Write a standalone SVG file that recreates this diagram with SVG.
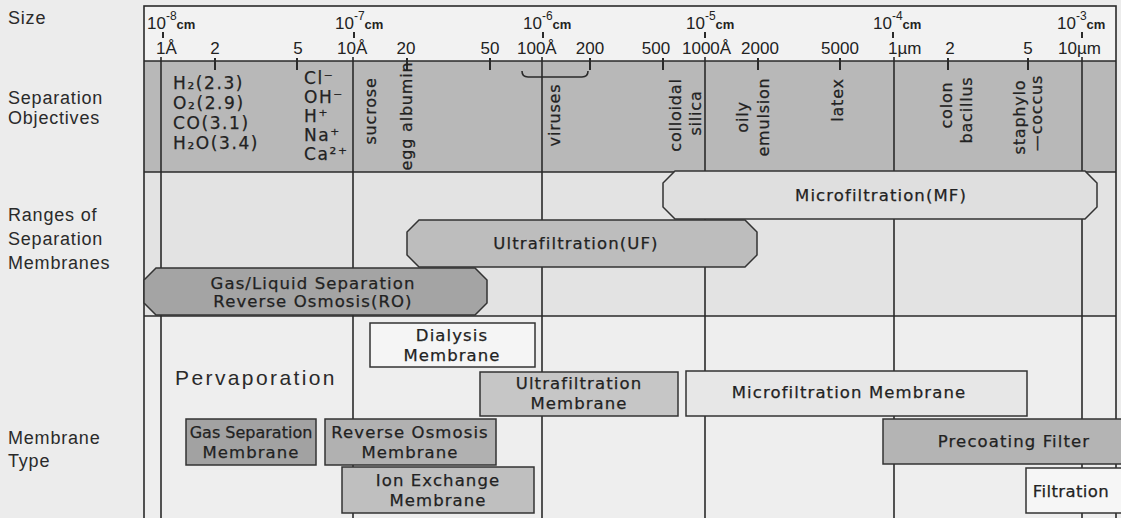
<svg xmlns="http://www.w3.org/2000/svg" width="1121" height="518" viewBox="0 0 1121 518">
<defs>
<style>
.lab{font-family:"Liberation Sans",Arial,sans-serif;font-size:18px;fill:#2a2a2a;letter-spacing:0.8px}
.num{font-family:"Liberation Sans",Arial,sans-serif;font-size:17px;fill:#222}
.sup{font-family:"Liberation Sans",Arial,sans-serif;font-size:17px;fill:#222}
.obj{font-family:"DejaVu Sans",sans-serif;font-size:17px;fill:#222;letter-spacing:1.6px;stroke:#222;stroke-width:0.25}
.rot{font-family:"DejaVu Sans",sans-serif;font-size:16px;fill:#222;letter-spacing:0.8px;text-anchor:middle;stroke:#222;stroke-width:0.25}
.bx{font-family:"DejaVu Sans",sans-serif;font-size:16.5px;fill:#222;letter-spacing:1.1px;text-anchor:middle;stroke:#222;stroke-width:0.25}
.line{stroke:#2a2a2a;stroke-width:1.6;fill:none}
.tick{stroke:#2a2a2a;stroke-width:2;fill:none}
.box{stroke:#333;stroke-width:1.5}
</style>
</defs>
<rect x="0" y="0" width="1121" height="518" fill="#ececec"/>
<rect x="144" y="6" width="972" height="55" fill="#f2f2f2"/>
<rect x="144" y="61" width="972" height="111" fill="#b8b8b8"/>
<rect x="144" y="172" width="972" height="144" fill="#e3e3e3"/>
<rect x="144" y="316" width="972" height="202" fill="#eeeeee"/>

<g id="grid-lines">
<rect x="144" y="6" width="972" height="520" class="line" stroke-width="2"/>
<line x1="144" y1="61" x2="1116" y2="61" class="line" stroke-width="2.4"/>
<line x1="144" y1="172" x2="1116" y2="172" class="line"/>
<line x1="144" y1="316" x2="1116" y2="316" class="line" stroke-width="2"/>
<line x1="161" y1="57" x2="161" y2="518" class="line"/>
<line x1="353" y1="57" x2="353" y2="518" class="line"/>
<line x1="542" y1="57" x2="542" y2="518" class="line"/>
<line x1="705" y1="57" x2="705" y2="518" class="line"/>
<line x1="894" y1="57" x2="894" y2="518" class="line"/>
<line x1="1082" y1="57" x2="1082" y2="518" class="line"/>
<g class="tick">
<line x1="163" y1="32" x2="163" y2="38"/><line x1="354" y1="32" x2="354" y2="38"/><line x1="543" y1="32" x2="543" y2="38"/>
<line x1="705" y1="32" x2="705" y2="38"/><line x1="893" y1="32" x2="893" y2="38"/><line x1="1082" y1="32" x2="1082" y2="38"/>
<line x1="215" y1="58" x2="215" y2="70"/><line x1="297" y1="58" x2="297" y2="70"/><line x1="407" y1="58" x2="407" y2="70"/>
<line x1="490" y1="58" x2="490" y2="70"/><line x1="590" y1="58" x2="590" y2="70"/><line x1="663" y1="58" x2="663" y2="70"/>
<line x1="758" y1="58" x2="758" y2="70"/><line x1="840" y1="58" x2="840" y2="70"/><line x1="948" y1="58" x2="948" y2="70"/>
<line x1="1028" y1="58" x2="1028" y2="70"/>
</g>
<path d="M522,71 Q522,77 528,77 H582 Q588,77 588,71" class="line" stroke-width="1.8"/>
</g>

<g id="row-labels">
<text class="lab" x="8" y="24">Size</text>
<text class="lab" x="8" y="104">Separation</text>
<text class="lab" x="8" y="124">Objectives</text>
<text class="lab" x="8" y="221">Ranges of</text>
<text class="lab" x="8" y="245">Separation</text>
<text class="lab" x="8" y="269">Membranes</text>
<text class="lab" x="8" y="444">Membrane</text>
<text class="lab" x="8" y="467">Type</text>
</g>

<g id="scale-header">
<text class="sup" x="147" y="29">10<tspan font-size="12" dy="-9">-8</tspan><tspan font-size="13" font-weight="bold" dy="9">cm</tspan></text>
<text class="sup" x="335" y="29">10<tspan font-size="12" dy="-9">-7</tspan><tspan font-size="13" font-weight="bold" dy="9">cm</tspan></text>
<text class="sup" x="523" y="29">10<tspan font-size="12" dy="-9">-6</tspan><tspan font-size="13" font-weight="bold" dy="9">cm</tspan></text>
<text class="sup" x="686" y="29">10<tspan font-size="12" dy="-9">-5</tspan><tspan font-size="13" font-weight="bold" dy="9">cm</tspan></text>
<text class="sup" x="873" y="29">10<tspan font-size="12" dy="-9">-4</tspan><tspan font-size="13" font-weight="bold" dy="9">cm</tspan></text>
<text class="sup" x="1057" y="29">10<tspan font-size="12" dy="-9">-3</tspan><tspan font-size="13" font-weight="bold" dy="9">cm</tspan></text>
<text class="num" x="156" y="54">1Å</text>
<text class="num" x="215" y="54" text-anchor="middle">2</text>
<text class="num" x="298" y="54" text-anchor="middle">5</text>
<text class="num" x="337" y="54">10Å</text>
<text class="num" x="406" y="54" text-anchor="middle">20</text>
<text class="num" x="490" y="54" text-anchor="middle">50</text>
<text class="num" x="517" y="54">100Å</text>
<text class="num" x="590" y="54" text-anchor="middle">200</text>
<text class="num" x="656" y="54" text-anchor="middle">500</text>
<text class="num" x="682" y="54">1000Å</text>
<text class="num" x="760" y="54" text-anchor="middle">2000</text>
<text class="num" x="840" y="54" text-anchor="middle">5000</text>
<text class="num" x="888" y="54">1µm</text>
<text class="num" x="950" y="54" text-anchor="middle">2</text>
<text class="num" x="1028" y="54" text-anchor="middle">5</text>
<text class="num" x="1058" y="54">10µm</text>
</g>

<g id="separation-objectives">
<text class="obj" x="173" y="89">H₂(2.3)</text>
<text class="obj" x="173" y="109">O₂(2.9)</text>
<text class="obj" x="173" y="129">CO(3.1)</text>
<text class="obj" x="173" y="149">H₂O(3.4)</text>
<text class="obj" x="304" y="84">Cl⁻</text>
<text class="obj" x="304" y="103">OH⁻</text>
<text class="obj" x="304" y="122">H⁺</text>
<text class="obj" x="304" y="141">Na⁺</text>
<text class="obj" x="304" y="160">Ca²⁺</text>
<text class="rot" transform="translate(376,111) rotate(-90)">sucrose</text>
<text class="rot" transform="translate(412,116) rotate(-90)">egg albumin</text>
<text class="rot" transform="translate(560,115) rotate(-90)">viruses</text>
<text class="rot" transform="translate(681,115) rotate(-90)">colloidal</text>
<text class="rot" transform="translate(701,113) rotate(-90)">silica</text>
<text class="rot" transform="translate(748,117) rotate(-90)">oily</text>
<text class="rot" transform="translate(769,117) rotate(-90)">emulsion</text>
<text class="rot" transform="translate(843,100) rotate(-90)">latex</text>
<text class="rot" transform="translate(952,105) rotate(-90)">colon</text>
<text class="rot" transform="translate(972,110) rotate(-90)">bacillus</text>
<text class="rot" transform="translate(1025,117) rotate(-90)">staphylo</text>
<text class="rot" transform="translate(1042,113) rotate(-90)">—coccus</text>
</g>

<g id="range-mf">
<path d="M675,171 H1085 L1097,183 V207 L1085,219 H675 L663,207 V183 Z" fill="#dfdfdf" class="box" stroke-width="2"/>
<text class="bx" x="881" y="201">Microfiltration(MF)</text>
</g>
<g id="range-uf">
<path d="M419,220 H745 L757,232 V255 L745,267 H419 L407,255 V232 Z" fill="#bdbdbd" class="box" stroke-width="2"/>
<text class="bx" x="576" y="249">Ultrafiltration(UF)</text>
</g>
<g id="range-ro">
<path d="M156,268 H475 L487,280 V303 L475,315 H156 L144,303 V280 Z" fill="#a4a4a4" class="box" stroke-width="2"/>
<text class="bx" x="313" y="289">Gas/Liquid Separation</text>
<text class="bx" x="313" y="307">Reverse Osmosis(RO)</text>
</g>

<g id="pervaporation">
<text class="lab" x="175" y="385" style="font-size:21px;letter-spacing:2.4px">Pervaporation</text>
</g>
<g id="dialysis-membrane">
<rect x="370" y="323" width="165" height="44" fill="#f5f5f5" class="box"/>
<text class="bx" x="452" y="341">Dialysis</text>
<text class="bx" x="452" y="361">Membrane</text>
</g>
<g id="ultrafiltration-membrane">
<rect x="480" y="372" width="198" height="44" fill="#c6c6c6" class="box"/>
<text class="bx" x="579" y="389">Ultrafiltration</text>
<text class="bx" x="579" y="409">Membrane</text>
</g>
<g id="microfiltration-membrane">
<rect x="686" y="371" width="341" height="45" fill="#e7e7e7" class="box"/>
<text class="bx" x="849" y="398">Microfiltration Membrane</text>
</g>
<g id="gas-separation-membrane">
<rect x="186" y="419" width="130" height="46" fill="#a2a2a2" class="box"/>
<text class="bx" x="251" y="438" style="font-size:16px;letter-spacing:0px">Gas Separation</text>
<text class="bx" x="251" y="458">Membrane</text>
</g>
<g id="reverse-osmosis-membrane">
<rect x="325" y="419" width="171" height="46" fill="#b1b1b1" class="box"/>
<text class="bx" x="410" y="438">Reverse Osmosis</text>
<text class="bx" x="410" y="458">Membrane</text>
</g>
<g id="ion-exchange-membrane">
<rect x="342" y="467" width="192" height="46" fill="#bfbfbf" class="box"/>
<text class="bx" x="438" y="486">Ion Exchange</text>
<text class="bx" x="438" y="506">Membrane</text>
</g>
<g id="precoating-filter">
<rect x="883" y="419" width="240" height="45" fill="#b4b4b4" class="box"/>
<text class="bx" x="1014" y="447">Precoating Filter</text>
</g>
<g id="filtration">
<rect x="1026" y="468" width="97" height="45" fill="#f6f6f6" class="box"/>
<text class="bx" x="1071" y="497" style="letter-spacing:0.4px">Filtration</text>
</g>
</svg>
